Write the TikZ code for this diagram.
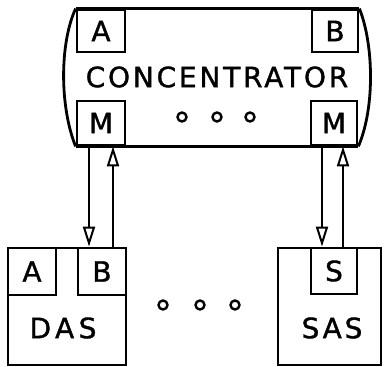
\documentclass[tikz,border=0pt]{standalone}
\usepackage{fontspec}
\usepackage{tikz}
\usetikzlibrary{arrows.meta, positioning, calc}
\newfontfamily\plotfont[LetterSpace=10, FakeBold=1.2]{DejaVu Sans}

\begin{document}
\begin{tikzpicture}[
    x=1pt, y=-1pt,
    line width=2.8pt,
    font=\plotfont\fontsize{28}{30}\selectfont,
    port/.style={draw, minimum width=47pt, minimum height=44pt, inner sep=0pt},
    station/.style={draw, minimum height=117pt, inner sep=0pt},
    dot/.style={circle, draw, minimum size=9pt, inner sep=0pt, line width=2.4pt},
    flow/.style={-{Triangle[open, length=20pt, width=12pt, line width=2pt]}, line width=2.2pt}
]
\useasboundingbox (0,0) rectangle (392,367);

% Concentrator ports
\node[port, minimum width=48pt, minimum height=42pt] (concA) at (101,31) {A};
\node[port, minimum width=46pt, minimum height=42pt] (concB) at (335,31) {B};
\node[port, minimum width=48pt] (concML) at (101,123) {M};
\node[port, minimum width=46pt] (concMR) at (334,123) {M};

% Concentrator outline
\draw (concA.north west) -- (concB.north east);
\draw (concML.south west) -- (concMR.south east);
\draw (concA.north west) .. controls +(-16,35) and +(-16,-40) .. (concML.south west);
\draw (concB.north east) .. controls +(14,35) and +(17,-40) .. (concMR.south east);
\node (conc) at (217,77) {CONCENTRATOR};
\foreach \x in {182,217,250}
    \node[dot] (cdot\x) at (\x,117) {};

% Stations
\node[station, minimum width=118pt] (das) at (67,306.5) {};
\node[port, minimum width=48pt, minimum height=47pt] (dasA) at (32,271.5) {A};
\node[port, minimum width=48pt, minimum height=47pt] (dasB) at (102,271.5) {B};
\node[font=\plotfont\addfontfeatures{LetterSpace=16}\fontsize{28}{30}\selectfont] (daslabel) at (63,328) {DAS};

\node[station, minimum width=103pt] (sas) at (329.5,306.5) {};
\node[port, minimum width=46pt, minimum height=46pt] (sasS) at (334,271) {S};
\node (saslabel) at (332,328) {SAS};

\foreach \x in {163,200,235}
    \node[dot] (sdot\x) at (\x,305) {};

% Links
\draw[flow] ([xshift=-12pt]concML.south) -- ([xshift=-12pt]concML.south |- dasB.north);
\draw[flow] ([xshift=12pt]concML.south |- dasB.north) -- ([xshift=12pt]concML.south);
\draw[flow] ([xshift=-12pt]concMR.south) -- ([xshift=-12pt]concMR.south |- sasS.north);
\draw[flow] ([xshift=9pt]concMR.south |- sasS.north) -- ([xshift=9pt]concMR.south);

\end{tikzpicture}
\end{document}
